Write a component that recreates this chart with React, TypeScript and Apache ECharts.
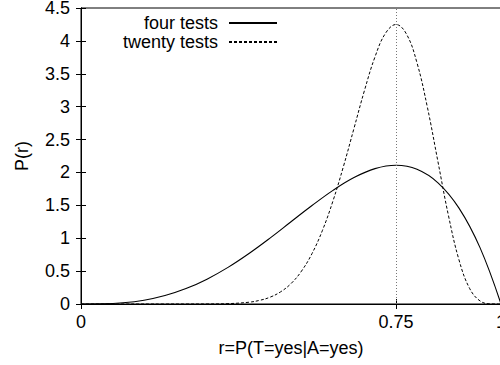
import React, { useEffect, useRef } from "react";
import * as echarts from "echarts";

// r values and P(r)
const fourR = [0, 0.05, 0.1, 0.15, 0.2, 0.25, 0.3, 0.35, 0.4, 0.45, 0.5, 0.55, 0.6, 0.65, 0.7, 0.75, 0.8, 0.85, 0.9, 0.95, 1];
const fourP = [0, 0.0024, 0.018, 0.057, 0.128, 0.234, 0.378, 0.557, 0.768, 1.002, 1.25, 1.497, 1.728, 1.922, 2.058, 2.109, 2.048, 1.842, 1.458, 0.857, 0];

const twentyR = [0, 0.1, 0.2, 0.25, 0.3, 0.35, 0.4, 0.425, 0.45, 0.475, 0.5, 0.525, 0.55, 0.575, 0.6, 0.625, 0.65, 0.675, 0.7, 0.725, 0.75, 0.775, 0.8, 0.825, 0.85, 0.875, 0.9, 0.925, 0.95, 0.975, 1];
const twentyP = [0, 0, 0, 0.0001, 0.0008, 0.0055, 0.027, 0.055, 0.103, 0.184, 0.31, 0.5, 0.766, 1.121, 1.568, 2.094, 2.671, 3.248, 3.757, 4.116, 4.249, 4.103, 3.666, 2.983, 2.16, 1.341, 0.67, 0.24, 0.047, 0.002, 0];

const xTicks = [0, 0.75, 1];
const seriesNames = ["four tests", "twenty tests"];
const markR = 0.75;

const FONT = "'Liberation Sans', Arial, Helvetica, sans-serif";

export default function App() {
  const ref = useRef<HTMLDivElement>(null);
  useEffect(() => {
    if (!ref.current) return;
    const chart = echarts.init(ref.current, undefined, { renderer: "svg" });
    const fs = 18;
    chart.setOption({
      animation: false,
      backgroundColor: "#fff",
      textStyle: { fontFamily: FONT, color: "#000" },
      grid: {
        left: 81, top: 8, width: 420, height: 296,
        show: true, borderColor: "#000", borderWidth: 1,
        containLabel: false, outerBoundsMode: "none",
      },
      legend: {
        orient: "vertical",
        align: "right",
        right: 222,
        top: 14,
        padding: 0,
        itemWidth: 48,
        itemHeight: 14,
        itemGap: 1,
        itemStyle: { opacity: 0, borderWidth: 0 },
        textStyle: { fontFamily: FONT, fontSize: fs, lineHeight: 18, color: "#000", padding: [0, 6, 0, 0] },
        data: seriesNames,
      },
      xAxis: [
        {
          type: "value",
          min: 0,
          max: 1,
          position: "bottom",
          name: "r=P(T=yes|A=yes)",
          nameLocation: "middle",
          nameGap: 35,
          nameTextStyle: { fontFamily: FONT, fontSize: fs, color: "#000" },
          axisLine: { show: true, lineStyle: { color: "#000", width: 1 } },
          axisTick: { show: true, inside: true, length: 5, customValues: xTicks, lineStyle: { color: "#000" } },
          axisLabel: { show: true, customValues: xTicks, margin: 9, fontFamily: FONT, fontSize: fs, color: "#000", formatter: (v: number) => String(v) },
          splitLine: { show: false },
        },
        {
          type: "value",
          min: 0,
          max: 1,
          position: "top",
          axisLine: { show: true, lineStyle: { color: "#000", width: 1 } },
          axisTick: { show: true, inside: true, length: 5, customValues: xTicks, lineStyle: { color: "#000" } },
          axisLabel: { show: false },
          splitLine: { show: false },
        },
      ],
      yAxis: [
        {
          type: "value",
          min: 0,
          max: 4.5,
          interval: 0.5,
          position: "left",
          name: "P(r)",
          nameLocation: "middle",
          nameGap: 50,
          nameRotate: 90,
          nameTextStyle: { fontFamily: FONT, fontSize: fs, color: "#000" },
          axisLine: { show: true, lineStyle: { color: "#000", width: 1 } },
          axisTick: { show: true, inside: true, length: 5, lineStyle: { color: "#000" } },
          axisLabel: { margin: 11, fontFamily: FONT, fontSize: fs, lineHeight: 14, color: "#000" },
          splitLine: { show: false },
        },
        {
          type: "value",
          min: 0,
          max: 4.5,
          interval: 0.5,
          position: "right",
          axisLine: { show: true, lineStyle: { color: "#000", width: 1 } },
          axisTick: { show: true, inside: true, length: 5, lineStyle: { color: "#000" } },
          axisLabel: { show: false },
          splitLine: { show: false },
        },
      ],
      series: [
        {
          name: seriesNames[0],
          type: "line",
          xAxisIndex: 0,
          yAxisIndex: 0,
          data: fourR.map((r, i) => [r, fourP[i]]),
          symbol: "none",
          smooth: 0.4,
          lineStyle: { color: "#000", width: 1.1, type: "solid" },
          itemStyle: { color: "#000" },
          markLine: {
            silent: true,
            symbol: ["none", "none"],
            label: { show: false },
            lineStyle: { color: "#777", width: 1, type: [1, 2] },
            data: [{ xAxis: markR }],
          },
        },
        {
          name: seriesNames[1],
          type: "line",
          xAxisIndex: 0,
          yAxisIndex: 0,
          data: twentyR.map((r, i) => [r, twentyP[i]]),
          symbol: "none",
          smooth: 0.4,
          lineStyle: { color: "#000", width: 1, type: [3, 2] },
          itemStyle: { color: "#000" },
        },
      ],
    });
    return () => chart.dispose();
  }, []);
  return <div ref={ref} style={{ position: "fixed", left: 0, top: 0, width: 500, height: 365, background: "#fff" }} />;
}
